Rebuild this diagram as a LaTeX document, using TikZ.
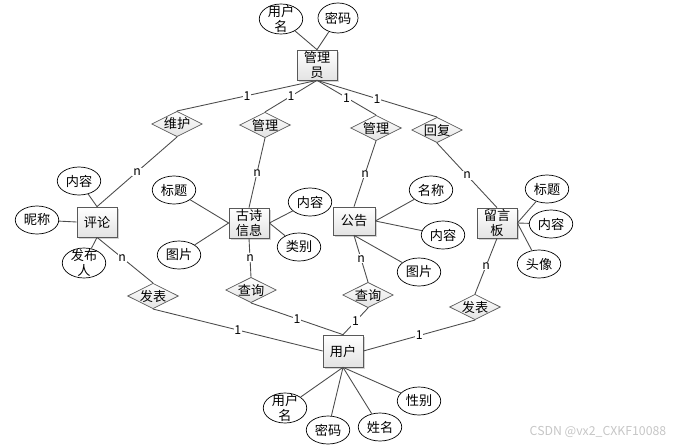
\documentclass[tikz,border=0pt]{standalone}
\usepackage{fontspec}
\setmainfont{Noto Sans CJK SC}
\usetikzlibrary{shapes.geometric,shadows}

\begin{document}
\begin{tikzpicture}[x=0.02cm,y=-0.02cm,
    every node/.style={font=\fontsize{7.5}{9}\selectfont},
    entity/.style={rectangle, draw=gray!70!black, top color=white, bottom color=gray!22,
        drop shadow={shadow xshift=1pt, shadow yshift=-1pt, opacity=0.35},
        minimum width=0.8cm, minimum height=0.6cm, inner sep=0.5pt, align=center},
    attr/.style={ellipse, draw, fill=white, minimum width=0.87cm, minimum height=0.56cm, inner sep=0pt},
    rel/.style={diamond, draw=gray!70!black, top color=white, bottom color=gray!22,
        minimum width=0.9cm, minimum height=0.48cm, inner sep=0pt, aspect=2},
    card/.style={fill=white, inner sep=0.5pt, font=\fontsize{7}{8}\selectfont},
    link/.style={draw=gray!60!black, line width=0.5pt}]
    \useasboundingbox (0,0) rectangle (679,446);

    % Entities
    \node[entity] (gly) at (317,65) {管理\\员};
    \node[entity] (pl) at (97,222) {评论};
    \node[entity] (gs) at (249,223) {古诗\\信息};
    \node[entity, minimum width=0.84cm, minimum height=0.56cm] (gg) at (354,221) {公告};
    \node[entity] (ly) at (497,223) {留言\\板};
    \node[entity, minimum height=0.64cm] (yh) at (343,351) {用户};

    % Relationships
    \node[rel] (wh) at (177,124) {维护};
    \node[rel] (gl1) at (265,125) {管理};
    \node[rel] (gl2) at (376,128) {管理};
    \node[rel] (hf) at (437,130) {回复};
    \node[rel] (fb1) at (153,296) {发表};
    \node[rel] (cx1) at (251,290) {查询};
    \node[rel] (cx2) at (368,295) {查询};
    \node[rel] (fb2) at (475,307) {发表};

    % Attributes of the administrator
    \node[attr, minimum height=0.6cm, label={[align=center]center:用户\\名}] (gly-ming) at (281,19) {};
    \node[attr, minimum width=0.8cm, minimum height=0.6cm] (gly-mm) at (338,18) {密码};
    \draw[link] (gly.north) -- (gly-ming);
    \draw[link] (gly.north) -- (gly-mm);

    % Attributes of the comment
    \node[attr] (pl-nr) at (79,181) {内容};
    \node[attr] (pl-nc) at (37,220) {昵称};
    \node[attr, minimum height=0.6cm, label={[align=center]center:发布\\人}] (pl-fbr) at (84,263) {};
    \draw[link] (pl.north) -- (pl-nr);
    \draw[link] (pl.west) -- (pl-nc);
    \draw[link] (pl.south) -- (pl-fbr);

    % Attributes of the poem
    \node[attr] (gs-bt) at (174,190) {标题};
    \node[attr] (gs-tp) at (179,255) {图片};
    \node[attr] (gs-nr) at (310,202) {内容};
    \node[attr] (gs-lb) at (299,247) {类别};
    \draw[link] (gs.west) -- (gs-bt);
    \draw[link] (gs.west) -- (gs-tp);
    \draw[link] (gs.east) -- (gs-nr);
    \draw[link] (gs.east) -- (gs-lb);

    % Attributes of the notice
    \node[attr] (gg-mc) at (431,190) {名称};
    \node[attr] (gg-nr) at (443,235) {内容};
    \node[attr] (gg-tp) at (419,272) {图片};
    \draw[link] (gg.east) -- (gg-mc);
    \draw[link] (gg.east) -- (gg-nr);
    \draw[link] (gg.south) -- (gg-tp);

    % Attributes of the message board
    \node[attr] (ly-bt) at (547,189) {标题};
    \node[attr] (ly-nr) at (551,224) {内容};
    \node[attr] (ly-tx) at (539,264) {头像};
    \draw[link] (ly.east) -- (ly-bt);
    \draw[link] (ly.east) -- (ly-nr);
    \draw[link] (ly.east) -- (ly-tx);

    % Attributes of the user
    \node[attr, minimum height=0.6cm, label={[align=center]center:用户\\名}] (yh-ming) at (285,408) {};
    \node[attr] (yh-mm) at (328,430) {密码};
    \node[attr] (yh-xm) at (380,427) {姓名};
    \node[attr] (yh-xb) at (419,401) {性别};
    \draw[link] (yh.south) -- (yh-ming);
    \draw[link] (yh.south) -- (yh-mm);
    \draw[link] (yh.south) -- (yh-xm);
    \draw[link] (yh.south) -- (yh-xb);

    % Administrator side
    \draw[link] (gly.south) -- node[card] {1} (wh.north);
    \draw[link] (gly.south) -- node[card] {1} (gl1.north);
    \draw[link] (gly.south) -- node[card] {1} (gl2.north);
    \draw[link] (gly.south) -- node[card] {1} (hf.north);
    \draw[link] (wh.south) -- node[card] {n} (pl.north);
    \draw[link] (gl1.south) -- node[card] {n} (gs.north);
    \draw[link] (gl2.south) -- node[card] {n} (gg.north);
    \draw[link] (hf.south) -- node[card] {n} (ly.north);

    % User side
    \draw[link] (pl.south) -- node[card, pos=0.45] {n} (fb1.north);
    \draw[link] (gs.south) -- node[card] {n} (cx1.north);
    \draw[link] (gg.south) -- node[card] {n} (cx2.north);
    \draw[link] (ly.south) -- node[card] {n} (fb2.north);
    \draw[link] (fb1.south) -- node[card] {1} (yh.west);
    \draw[link] (cx1.south) -- node[card] {1} (yh.north);
    \draw[link] (cx2.south) -- node[card] {1} (yh.north);
    \draw[link] (fb2.south) -- node[card] {1} (yh.east);

    % Watermark
    \node[text=gray!45, font=\fontsize{7}{8}\selectfont] (wm) at (598,432) {CSDN @vx2\_CXKF10088};
\end{tikzpicture}
\end{document}
